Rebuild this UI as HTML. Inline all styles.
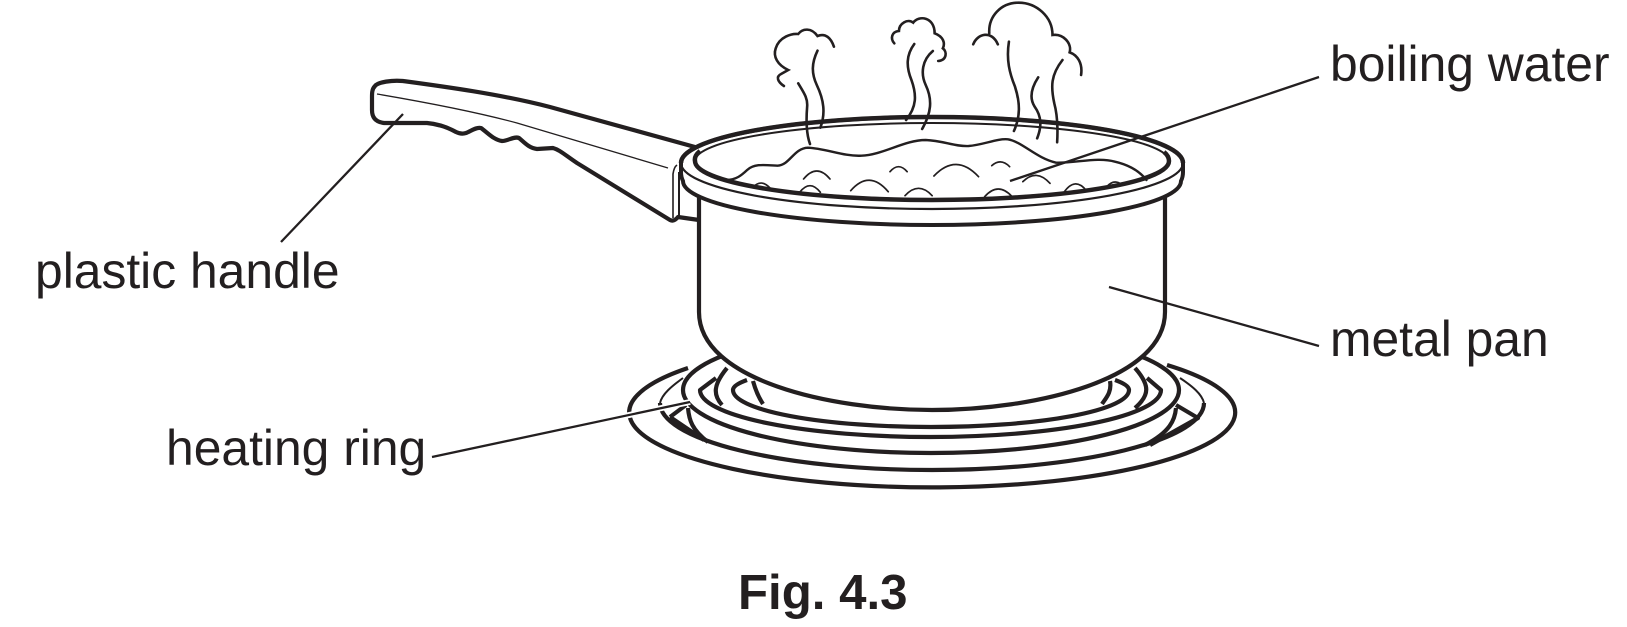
<!DOCTYPE html>
<html><head><meta charset="utf-8"><style>
html,body{margin:0;padding:0;background:#fff;width:1627px;height:627px;overflow:hidden}
svg{display:block}
text{font-family:"Liberation Sans",Arial,sans-serif;font-size:49.8px;fill:#231f20}
.s path{vector-effect:non-scaling-stroke;fill:none;stroke:#231f20}
</style></head><body>
<svg width="1627" height="627" viewBox="0 0 1627 627" xmlns="http://www.w3.org/2000/svg">
<rect width="1627" height="627" fill="#fff"/>
<g fill="none" stroke="#231f20" stroke-width="4.2" stroke-linecap="butt" stroke-linejoin="round">
<!-- heating ring -->
<path d="M688 368 A303 75 0 1 0 1167 365"/>
<path d="M683 378 C672 386 662 394 660 403" stroke-width="2"/>
<path d="M1180 378 C1192 386 1202 394 1204 403" stroke-width="2"/>
<path d="M660 403 A272 67 0 0 0 1204 403"/>
<path d="M688 408 C689 420 692 430 708 442"/>
<path d="M1176 408 C1175 420 1170 432 1145 445"/>
<path d="M670 417 L686 405 M670 417 L704 440 M1176 405 L1198 418 L1150 445"/>
<ellipse cx="931" cy="390" rx="248" ry="63" fill="#fff"/>
<path d="M716 378 L700 390 A230.5 47 0 0 0 1161 390 L1147 378"/>
<path d="M747 380 Q733 385 733 390 A198 37 0 0 0 1129 390 Q1129 385 1115 380"/>
<path d="M727 368 C713 385 713 395 722 405"/>
<path d="M1135 368 C1150 385 1150 395 1135 408"/>
<path d="M753 381 C756 392 759 398 763 404"/>
<path d="M1110 381 C1112 392 1106 398 1102 404"/>
<!-- handle -->
<path fill="#fff" d="M695 147 L550 107 C500 94 440 86 403 81 C392 80 378 82 375 86 C372 89 372 93 372 97 L372 110 C372 118 376 122 384 123 L393 123 L427 123 C438 124 447 127 456 132 C460 134 463 134 466 133 C471 131 476 127 481 128 C488 133 494 140 502 141 C508 141 514 136 519 138 C525 143 529 148 537 149 L553 148 C560 150 565 155 577 163 L670 220 Q674 222 678 217 L699 220 L700 150 Z"/>
<path d="M377 94 C430 103 480 113 517 123 L668 168" stroke-width="1.3"/>
<path d="M673 218 L673 174 Q674 167 677 165" stroke-width="1.6"/>
<path d="M679 217 L679 172" stroke-width="2"/>
<!-- pan body -->
<path fill="#fff" d="M699 190 L699 312 C699 380 830 410 932 410 C1034 410 1165 380 1165 312 L1165 190"/>
<!-- rim -->
<path fill="#fff" d="M681 163 L681 172 Q681 177 683 181 A249 44 0 0 0 1181 181 Q1183 177 1183 172 L1183 163 A251 46 0 0 0 681 163 Z" stroke-width="4"/>
<path d="M681 163 A251 46 0 0 1 1183 163" stroke-width="4.5"/>
<path d="M681 163 A251 46 0 0 0 1183 163" stroke-width="2.2"/>
<ellipse cx="932" cy="161" rx="237" ry="38" stroke-width="2"/>
<path d="M700 151 Q694 156 695 161 A237 39 0 0 0 1169 161 Q1169 156 1164 152" stroke-width="4.5"/>
</g>
<g class="s" transform="translate(640 0) scale(0.35714 0.33333)" stroke-linecap="round">
<path stroke-width="2.4" d="M240 540 C270 540 285 525 300 510 C320 490 350 495 385 497 C420 495 430 445 470 443 C520 445 570 470 620 467 C680 465 740 420 800 420 C850 422 880 440 920 438 C960 435 1000 415 1030 418 C1070 425 1110 475 1165 488 C1220 490 1280 470 1330 485 C1370 495 1400 515 1418 540"/>
<path stroke-width="1.7" d="M458 537 Q495 489 532 537 M447 577 Q476 537 505 577 M590 572 Q642 508 695 575 M700 515 Q724 485 748 515 M742 587 Q780 543 818 587 M823 528 Q885 458 948 530 M965 590 Q1003 544 1042 590 M985 497 Q1010 473 1035 500 M1072 545 Q1110 505 1148 550 M1187 577 Q1218 529 1250 572 M1307 560 Q1328 535 1350 555 M318 560 Q340 536 365 565"/>
<path stroke-width="2.6" d="M403 258 C385 245 380 230 395 222 L415 210 C385 195 372 170 380 145 C390 110 425 100 443 102 C455 85 480 82 497 108 C520 98 535 115 543 140"/>
<path stroke-width="2.6" d="M443 250 C460 280 470 295 468 320 C465 360 465 400 476 432 M497 152 C480 190 480 220 495 255 C515 300 520 340 505 383"/>
<path stroke-width="2.6" d="M712 130 C700 115 705 95 725 93 C725 70 750 55 765 68 C780 45 825 50 825 100 C850 110 855 130 848 145 C860 155 860 180 835 183"/>
<path stroke-width="2.6" d="M768 132 C745 165 745 200 760 240 C775 285 775 320 745 360 M820 153 C790 180 785 220 800 255 C820 300 815 340 790 387"/>
<path stroke-width="2.6" d="M933 133 C945 100 985 90 1002 133 M978 100 C975 50 1010 8 1060 8 C1110 8 1155 50 1155 105 C1185 100 1210 130 1203 157 C1225 165 1240 190 1235 225"/>
<path stroke-width="2.6" d="M1033 125 C1025 180 1035 220 1050 260 C1065 310 1065 350 1047 393 M1115 232 C1095 265 1090 295 1105 320 C1125 350 1125 380 1112 415 M1183 180 C1150 225 1150 260 1160 310 C1170 350 1170 390 1168 427"/>
</g>
<g stroke="#231f20" stroke-width="2.3" fill="none">
<path d="M403 114 L281 242"/>
<path d="M1010 181 L1319 77"/>
<path d="M1109 287 L1319 346"/>
<path d="M432 457 L690 402" stroke="#fff" stroke-width="6"/>
<path d="M432 457 L690 402"/>
</g>
<text x="35" y="288">plastic handle</text>
<text x="166" y="465">heating ring</text>
<text x="1330" y="81">boiling water</text>
<text x="1330" y="356">metal pan</text>
<text x="738" y="609" style="font-weight:bold;font-size:49.2px">Fig. 4.3</text>
</svg>
</body></html>
